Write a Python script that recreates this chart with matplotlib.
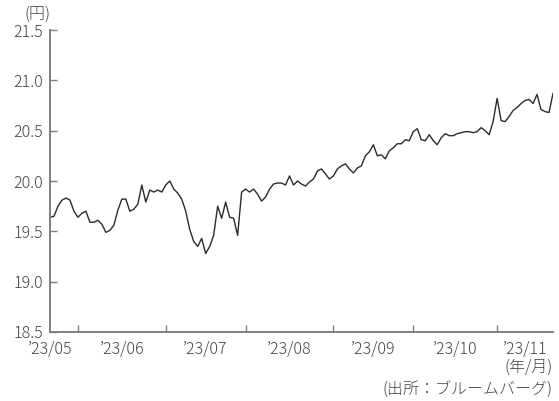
import matplotlib
matplotlib.use("Agg")
from matplotlib import pyplot as plt
import numpy as np

plt.rcParams['font.family'] = ['Noto Sans CJK JP', 'DejaVu Sans']
plt.rcParams['font.weight'] = 'light'

# CNY/JPY daily close (one value per trading day)
rates = [19.64, 19.65, 19.75, 19.81, 19.83, 19.81, 19.70, 19.64, 19.68, 19.70,
         19.59, 19.59, 19.61, 19.57, 19.49, 19.51, 19.56, 19.71, 19.82, 19.82,
         19.70, 19.72, 19.77, 19.96, 19.79, 19.91, 19.89, 19.91, 19.89, 19.96,
         20.00, 19.92, 19.88, 19.82, 19.70, 19.52, 19.40, 19.35, 19.43, 19.28,
         19.35, 19.46, 19.75, 19.63, 19.79, 19.64, 19.63, 19.46, 19.89, 19.92,
         19.89, 19.92, 19.87, 19.80, 19.84, 19.92, 19.97, 19.98, 19.98, 19.96,
         20.05, 19.96, 20.00, 19.97, 19.95, 19.99, 20.02, 20.10, 20.12, 20.07,
         20.02, 20.05, 20.12, 20.15, 20.17, 20.12, 20.08, 20.13, 20.15, 20.25,
         20.29, 20.36, 20.25, 20.26, 20.22, 20.30, 20.33, 20.37, 20.37, 20.41,
         20.40, 20.49, 20.52, 20.41, 20.40, 20.46, 20.40, 20.36, 20.43, 20.47,
         20.45, 20.45, 20.47, 20.48, 20.49, 20.49, 20.48, 20.49, 20.53, 20.50,
         20.46, 20.59, 20.82, 20.60, 20.59, 20.64, 20.70, 20.73, 20.77, 20.80,
         20.81, 20.77, 20.86, 20.71, 20.69, 20.68, 20.87]

# index of the first trading day of each month (Jun..Nov)
month_starts = [7, 29, 49, 71, 91, 112]
month_labels = ["’23/05", "’23/06", "’23/07", "’23/08", "’23/09", "’23/10", "’23/11"]
y_ticks = [18.5, 19.0, 19.5, 20.0, 20.5, 21.0, 21.5]

days = np.arange(len(rates))
last = len(rates) - 1

fig = plt.figure(figsize=(5.59, 4.01), dpi=100)
ax = fig.add_axes([50/559, 69/401, 503/559, 302/401])

ax.plot(days, rates, color='#2b2b2b', lw=1.0)

ax.set_xlim(0, last)
ax.set_ylim(18.5, 21.5)
ax.set_yticks(y_ticks)
ax.set_yticklabels(["%.1f" % v for v in y_ticks])

# month boundaries as major ticks, labels centred in each month
bounds = [0] + month_starts + [last]
label_pos = [0] + [(bounds[i] + bounds[i+1]) / 2 for i in range(1, len(bounds) - 1)]
ax.set_xticks(month_starts)
ax.set_xticklabels([])
ax.set_xticks(label_pos, minor=True)
ax.set_xticklabels(month_labels, minor=True)

grey = '#7f7f7f'
txt = '#444444'
for side in ['top', 'right']:
    ax.spines[side].set_visible(False)
for side in ['left', 'bottom']:
    ax.spines[side].set_color(grey)
    ax.spines[side].set_linewidth(1.4)

ax.tick_params(axis='both', which='major', direction='in', length=5,
               width=1.0, color=grey, labelsize=11.5, labelcolor=txt, pad=5)
ax.tick_params(axis='x', which='minor', length=0, labelsize=11.5,
               labelcolor=txt, pad=6.5)

fig.text(37/559, 1 - 14/401, "(円)", ha='center', va='center',
         fontsize=11.5, color=txt)
fig.text(553/559, 1 - 367/401, "(年/月)", ha='right', va='center',
         fontsize=11.5, color=txt)
fig.text(553/559, 1 - 389/401, "(出所：ブルームバーグ)", ha='right', va='center',
         fontsize=11.5, color=txt)

fig.savefig('out.png', dpi=100)
